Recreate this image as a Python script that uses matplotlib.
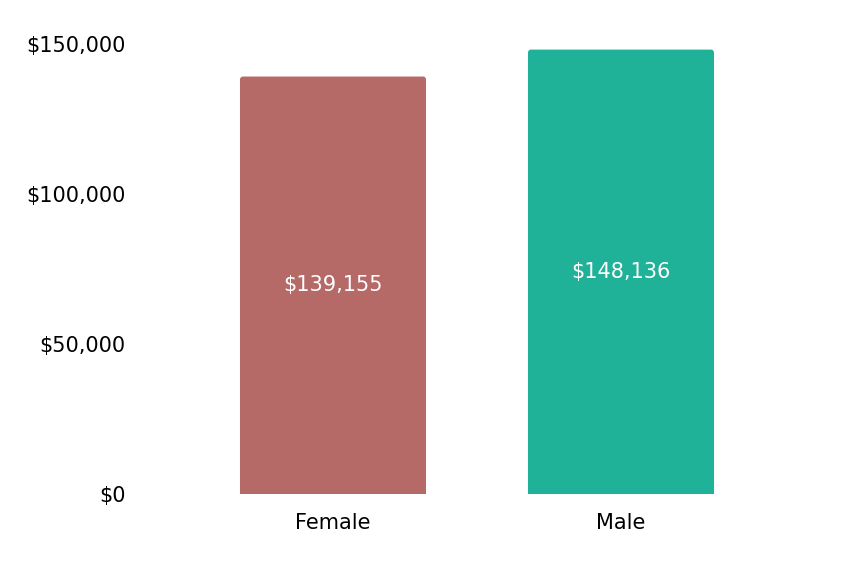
import matplotlib
matplotlib.use("Agg")
import matplotlib.pyplot as plt
from matplotlib.ticker import FuncFormatter
from matplotlib.patches import FancyBboxPatch

categories = ["Female", "Male"]
values = [139155, 148136]
colors = ["#B56A68", "#20B199"]
yticks = [0, 50000, 100000, 150000]

W, H = 842, 564
fig = plt.figure(figsize=(W/100, H/100), dpi=100)
left, right, bottom, top = 130, 812, 494, 44
ax = fig.add_axes([left/W, (H-bottom)/H, (right-left)/W, (bottom-top)/H])

bars = ax.bar(range(len(categories)), values, width=0.646, color=colors)
# round the top corners slightly (radius ~3px)
xu = 3/288.0          # 3px in x data units
yu = 3*1000/3.0       # 3px in y data units
for b in bars:
    x, y, w, h = b.get_x(), b.get_y(), b.get_width(), b.get_height()
    b.set_visible(False)
    p = FancyBboxPatch((x, y - 3*yu), w, h + 3*yu,
                       boxstyle=f"round,pad=0,rounding_size={xu}",
                       mutation_aspect=yu/xu, facecolor=b.get_facecolor(),
                       edgecolor="none", clip_on=True)
    ax.add_patch(p)

for i, v in enumerate(values):
    ax.text(i, v/2, f"${v:,.0f}", ha="center", va="center", color="white", fontsize=15)

ax.set_xlim((left-333)/288, (right-333)/288)
ax.set_ylim(0, 150000)
ax.set_yticks(yticks)
ax.yaxis.set_major_formatter(FuncFormatter(lambda v, p: f"${v:,.0f}"))
ax.set_xticks(range(len(categories)))
ax.set_xticklabels(categories)
ax.tick_params(axis="y", length=0, pad=3, labelsize=15)
ax.tick_params(axis="x", length=0, pad=13.5, labelsize=15)
for s in ax.spines.values():
    s.set_visible(False)

fig.savefig("out.png", dpi=100)
